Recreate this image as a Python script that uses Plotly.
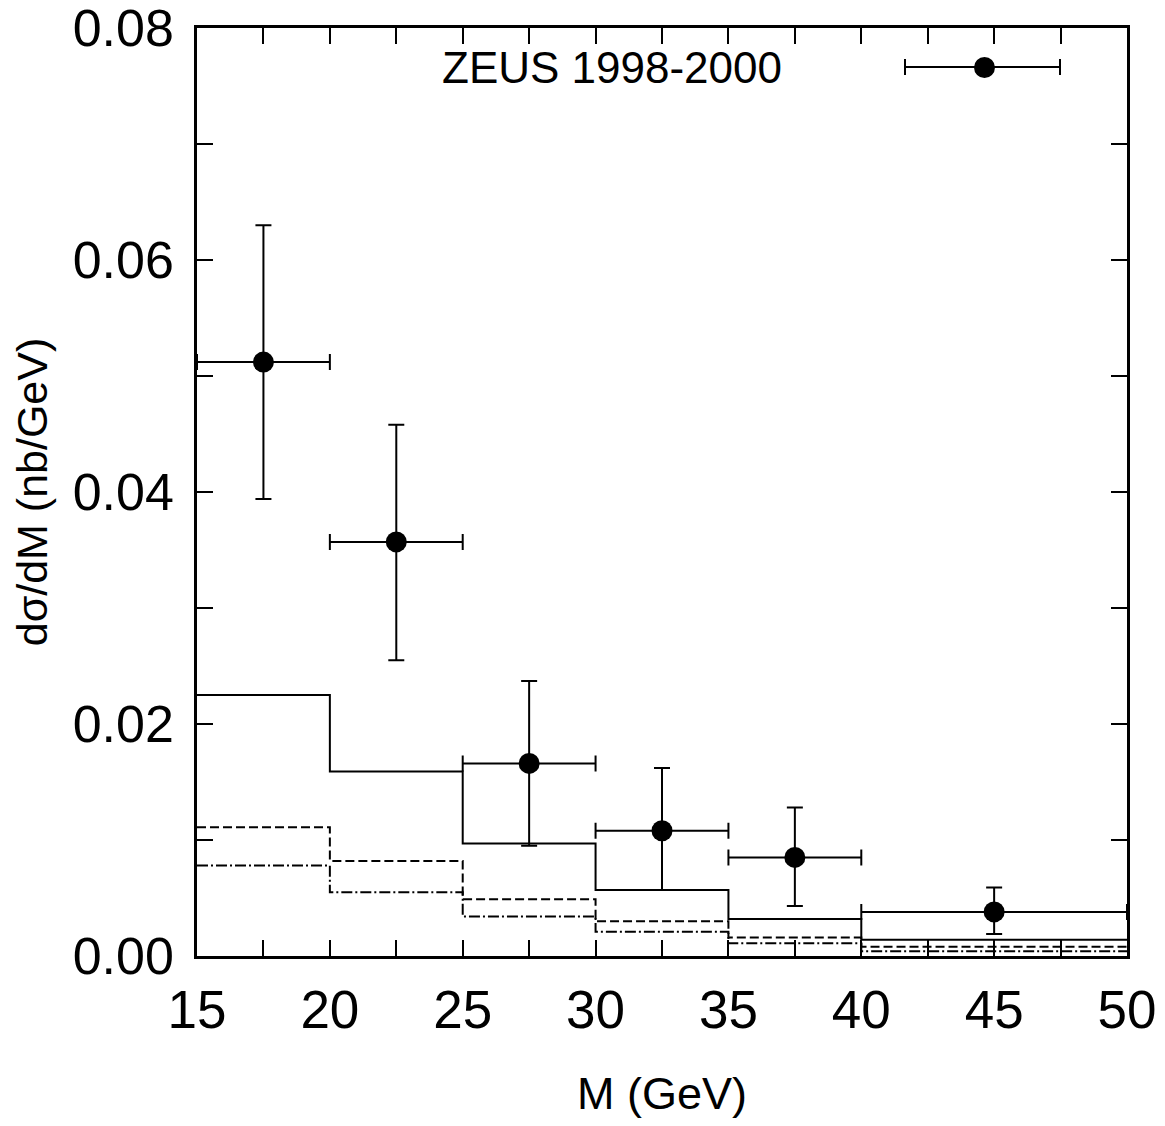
import plotly.graph_objects as go

# Data points (ZEUS 1998-2000)
m_centers = [17.5, 22.5, 27.5, 32.5, 37.5, 45.0]
m_halfwidth = [2.5, 2.5, 2.5, 2.5, 2.5, 5.0]
xsec = [0.0512, 0.0357, 0.0166, 0.0108, 0.0085, 0.0038]
err_up = [0.0118, 0.0101, 0.0071, 0.0054, 0.0043, 0.0021]
err_down = [0.0118, 0.0102, 0.0071, 0.0051, 0.0042, 0.0019]

# Histogram bins (edges) and predictions
bin_edges = [15, 20, 25, 30, 35, 40, 50]
pred_solid = [0.0225, 0.0159, 0.0097, 0.0057, 0.0032, 0.0014]
pred_dashed = [0.0111, 0.0082, 0.0049, 0.0030, 0.0016, 0.0008]
pred_dashdot = [0.0078, 0.0055, 0.0034, 0.0021, 0.0011, 0.0004]

legend_label = "ZEUS 1998-2000"
x_title = "M (GeV)"
y_title = "dσ/dM (nb/GeV)"

BASE = "'Liberation Sans', Arial, Helvetica, sans-serif"

fig = go.Figure()

def step_trace(vals, dash):
    ys = list(vals) + [vals[-1]]
    return go.Scatter(x=bin_edges, y=ys, mode="lines", line_shape="hv",
                      line=dict(color="black", width=2, dash=dash),
                      showlegend=False, hoverinfo="skip")

fig.add_trace(step_trace(pred_solid, "solid"))
fig.add_trace(step_trace(pred_dashed, "9px,4px"))
fig.add_trace(step_trace(pred_dashdot, "11px,3px,2px,3px"))

fig.add_trace(go.Scatter(
    x=m_centers, y=xsec, mode="markers",
    marker=dict(color="black", size=21, symbol="circle"),
    error_x=dict(type="data", array=m_halfwidth, color="black", thickness=2, width=8),
    error_y=dict(type="data", array=err_up, arrayminus=err_down, color="black", thickness=2, width=8),
    name=legend_label, showlegend=False,
))

L, R, T, B = 197, 38, 28, 170
W, H = 1165, 1126
pw, ph = W - L - R, H - T - B

def px2x(px):
    return (px - L) / pw

def py2y(py):
    return (H - B - py) / ph

# Legend drawn gnuplot-style (label left, key right)
ly = py2y(67)
shapes = [
    dict(type="line", xref="paper", yref="paper", x0=px2x(905), x1=px2x(1060), y0=ly, y1=ly,
         line=dict(color="black", width=2)),
    dict(type="line", xref="paper", yref="paper", x0=px2x(905), x1=px2x(905), y0=py2y(59), y1=py2y(75),
         line=dict(color="black", width=2)),
    dict(type="line", xref="paper", yref="paper", x0=px2x(1060), x1=px2x(1060), y0=py2y(59), y1=py2y(75),
         line=dict(color="black", width=2)),
    dict(type="circle", xref="paper", yref="paper", x0=px2x(974), x1=px2x(995), y0=py2y(57), y1=py2y(78),
         fillcolor="black", line=dict(color="black", width=0)),
]

fig.update_layout(
    width=W, height=H,
    margin=dict(l=L, r=R, t=T, b=B, autoexpand=False),
    paper_bgcolor="white", plot_bgcolor="white",
    font=dict(family=BASE, color="black"),
    showlegend=False,
    shapes=shapes,
    annotations=[dict(text=legend_label, xref="paper", yref="paper", x=px2x(784), y=ly,
                      xanchor="right", yanchor="middle", showarrow=False,
                      font=dict(family=BASE, size=44, color="black"))],
)

fig.update_xaxes(
    range=[15, 50], tickvals=[15, 20, 25, 30, 35, 40, 45, 50],
    ticks="inside", ticklen=16, tickwidth=2, tickcolor="black",
    minor=dict(dtick=2.5, tick0=15, ticks="inside", ticklen=16, tickwidth=2, tickcolor="black"),
    showline=True, linewidth=2.5, linecolor="black", mirror="ticks",
    showgrid=False, zeroline=False, automargin=False, ticklabeloverflow="allow",
    tickfont=dict(size=53, family=BASE),
    ticklabelstandoff=6,
    title=dict(text=x_title, font=dict(size=45, family=BASE), standoff=40),
)
fig.update_yaxes(
    range=[0, 0.08], tickvals=[0, 0.02, 0.04, 0.06, 0.08], tickformat=".2f",
    ticks="inside", ticklen=16, tickwidth=2, tickcolor="black",
    minor=dict(dtick=0.01, tick0=0, ticks="inside", ticklen=16, tickwidth=2, tickcolor="black"),
    showline=True, linewidth=2.5, linecolor="black", mirror="ticks",
    showgrid=False, zeroline=False, automargin=False, ticklabeloverflow="allow",
    tickfont=dict(size=52, family=BASE),
    ticklabelstandoff=10,
    title=dict(text=y_title, font=dict(size=43, family=BASE), standoff=12),
)

fig.write_html("out.html")
